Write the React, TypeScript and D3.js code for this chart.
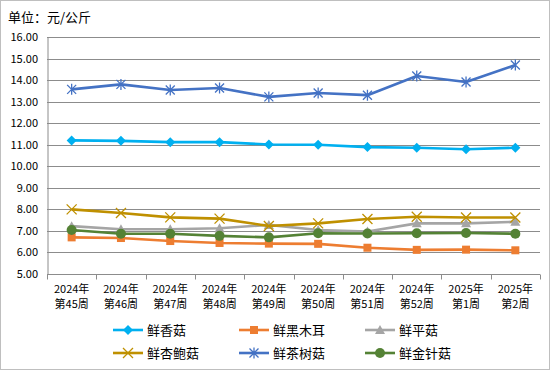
import React, { useEffect, useRef } from 'react';
import * as d3 from 'd3';

const categories = [
  '2024年|第45周', '2024年|第46周', '2024年|第47周', '2024年|第48周', '2024年|第49周',
  '2024年|第50周', '2024年|第51周', '2024年|第52周', '2025年|第1周', '2025年|第2周'
];
const xiangguValues = [11.2, 11.18, 11.12, 11.12, 11.01, 11.0, 10.89, 10.86, 10.79, 10.86];
const heimuerValues = [6.7, 6.67, 6.53, 6.44, 6.41, 6.4, 6.22, 6.12, 6.13, 6.1];
const pingguValues = [7.22, 7.08, 7.08, 7.12, 7.28, 7.04, 6.97, 7.35, 7.35, 7.42];
const xingbaoguValues = [8.0, 7.83, 7.63, 7.57, 7.23, 7.35, 7.55, 7.66, 7.62, 7.62];
const chashuguValues = [13.57, 13.8, 13.54, 13.63, 13.22, 13.4, 13.3, 14.19, 13.91, 14.7];
const jinzhenguValues = [7.04, 6.87, 6.87, 6.77, 6.7, 6.89, 6.88, 6.89, 6.9, 6.87];
const yTicks = [5, 6, 7, 8, 9, 10, 11, 12, 13, 14, 15, 16];

type Marker = 'diamond' | 'square' | 'triangle' | 'x' | 'star' | 'circle';
const seriesNames = ['鲜香菇', '鲜黑木耳', '鲜平菇', '鲜杏鲍菇', '鲜茶树菇', '鲜金针菇'];
const seriesColors = ['#00b0f0', '#ed7d31', '#a5a5a5', '#bf9000', '#4472c4', '#548235'];
const seriesMarkers: Marker[] = ['diamond', 'square', 'triangle', 'x', 'star', 'circle'];
const seriesValues = [xiangguValues, heimuerValues, pingguValues, xingbaoguValues, chashuguValues, jinzhenguValues];

const W = 550;
const H = 370;
const margin = { top: 37, right: 10, bottom: 96, left: 47 };
const FONT = '"Noto Sans CJK SC", "Noto Sans", sans-serif';

function drawMarker(g: d3.Selection<SVGGElement, unknown, null, undefined>, type: Marker, x: number, y: number, color: string) {
  if (type === 'diamond') {
    g.append('path').attr('d', `M${x},${y - 5}L${x + 5},${y}L${x},${y + 5}L${x - 5},${y}Z`).attr('fill', color);
  } else if (type === 'square') {
    g.append('rect').attr('x', x - 4).attr('y', y - 4).attr('width', 8).attr('height', 8).attr('fill', color);
  } else if (type === 'triangle') {
    g.append('path').attr('d', `M${x},${y - 5}L${x + 5},${y + 4}L${x - 5},${y + 4}Z`).attr('fill', color);
  } else if (type === 'circle') {
    g.append('circle').attr('cx', x).attr('cy', y).attr('r', 5).attr('fill', color);
  } else if (type === 'x') {
    g.append('path').attr('d', `M${x - 5},${y - 5}L${x + 5},${y + 5}M${x + 5},${y - 5}L${x - 5},${y + 5}`)
      .attr('stroke', color).attr('stroke-width', 1.3);
  } else {
    g.append('path')
      .attr('d', `M${x - 4.5},${y - 4.5}L${x + 4.5},${y + 4.5}M${x + 4.5},${y - 4.5}L${x - 4.5},${y + 4.5}M${x},${y - 5.5}L${x},${y + 5.5}`)
      .attr('stroke', color).attr('stroke-width', 1.3);
  }
}

const App: React.FC = () => {
  const svgRef = useRef<SVGSVGElement>(null);

  useEffect(() => {
    if (!svgRef.current) return;
    const svg = d3.select(svgRef.current);
    svg.selectAll('*').remove();

    const plotW = W - margin.left - margin.right;
    const plotH = H - margin.top - margin.bottom;

    svg.append('rect').attr('x', 0.5).attr('y', 0.5).attr('width', W - 1).attr('height', H - 1)
      .attr('fill', '#fff').attr('stroke', '#bfbfbf');

    svg.append('text').attr('x', 8).attr('y', 22).text('单位：元/公斤')
      .style('font-family', FONT).style('font-size', '13px').style('fill', '#000');

    const chart = svg.append('g').attr('transform', `translate(${margin.left},${margin.top})`);

    const x = d3.scaleBand().domain(categories).range([0, plotW]);
    const y = d3.scaleLinear().domain([5, 16]).range([plotH, 0]);

    // gridlines
    chart.append('g').selectAll('line').data(yTicks).enter().append('line')
      .attr('x1', 0).attr('x2', plotW)
      .attr('y1', d => Math.round(y(d)) + 0.5).attr('y2', d => Math.round(y(d)) + 0.5)
      .attr('stroke', '#8c8c8c').attr('stroke-width', 1);

    // y axis
    const yAxis = chart.append('g')
      .call(d3.axisLeft(y).tickValues(yTicks).tickFormat(d => (d as number).toFixed(2)).tickSize(0).tickPadding(9));
    yAxis.select('.domain').attr('stroke', '#8c8c8c').attr('transform', 'translate(0.5,0)');
    yAxis.selectAll('text').style('font-family', FONT).style('font-size', '11px').style('fill', '#000');

    // x axis
    const xAxis = chart.append('g').attr('transform', `translate(0,${Math.round(plotH) + 0.5})`);
    xAxis.append('line').attr('x1', 0).attr('x2', plotW).attr('stroke', '#8c8c8c');
    const bounds = categories.map((c) => x(c) || 0).concat([plotW]);
    xAxis.selectAll('.tk').data(bounds).enter().append('line')
      .attr('x1', d => Math.round(d) + 0.5).attr('x2', d => Math.round(d) + 0.5)
      .attr('y1', 0).attr('y2', 5).attr('stroke', '#8c8c8c');
    const labels = xAxis.selectAll('.lbl').data(categories).enter().append('text')
      .attr('x', d => (x(d) || 0) + x.bandwidth() / 2)
      .attr('text-anchor', 'middle')
      .style('font-family', FONT).style('font-size', '11px').style('fill', '#000');
    labels.append('tspan').attr('x', d => (x(d) || 0) + x.bandwidth() / 2).attr('y', 18).text(d => d.split('|')[0]);
    labels.append('tspan').attr('x', d => (x(d) || 0) + x.bandwidth() / 2).attr('y', 33).text(d => d.split('|')[1]);

    // series
    const line = d3.line<number>()
      .x((_d, i) => (x(categories[i]) || 0) + x.bandwidth() / 2)
      .y(d => y(d));

    seriesValues.forEach((vals, si) => {
      const g = chart.append('g');
      g.append('path').datum(vals).attr('d', line).attr('fill', 'none')
        .attr('stroke', seriesColors[si]).attr('stroke-width', 2.6).attr('stroke-linejoin', 'round');
      vals.forEach((v, i) => {
        drawMarker(g, seriesMarkers[si], (x(categories[i]) || 0) + x.bandwidth() / 2, y(v), seriesColors[si]);
      });
    });

    // legend
    const legendCols = [113, 239, 365];
    const legendRows = [330, 353];
    seriesNames.forEach((name, i) => {
      const lx = legendCols[i % 3];
      const ly = legendRows[Math.floor(i / 3)];
      const g = svg.append('g');
      g.append('line').attr('x1', lx).attr('x2', lx + 30).attr('y1', ly).attr('y2', ly)
        .attr('stroke', seriesColors[i]).attr('stroke-width', 2.6);
      drawMarker(g, seriesMarkers[i], lx + 15, ly, seriesColors[i]);
      g.append('text').attr('x', lx + 34).attr('y', ly).attr('dy', '0.35em').text(name)
        .style('font-family', FONT).style('font-size', '13px').style('fill', '#000');
    });
  }, []);

  return (
    <div style={{ position: 'fixed', left: 0, top: 0 }}>
      <svg ref={svgRef} width={W} height={H} style={{ display: 'block' }} />
    </div>
  );
};

export default App;
